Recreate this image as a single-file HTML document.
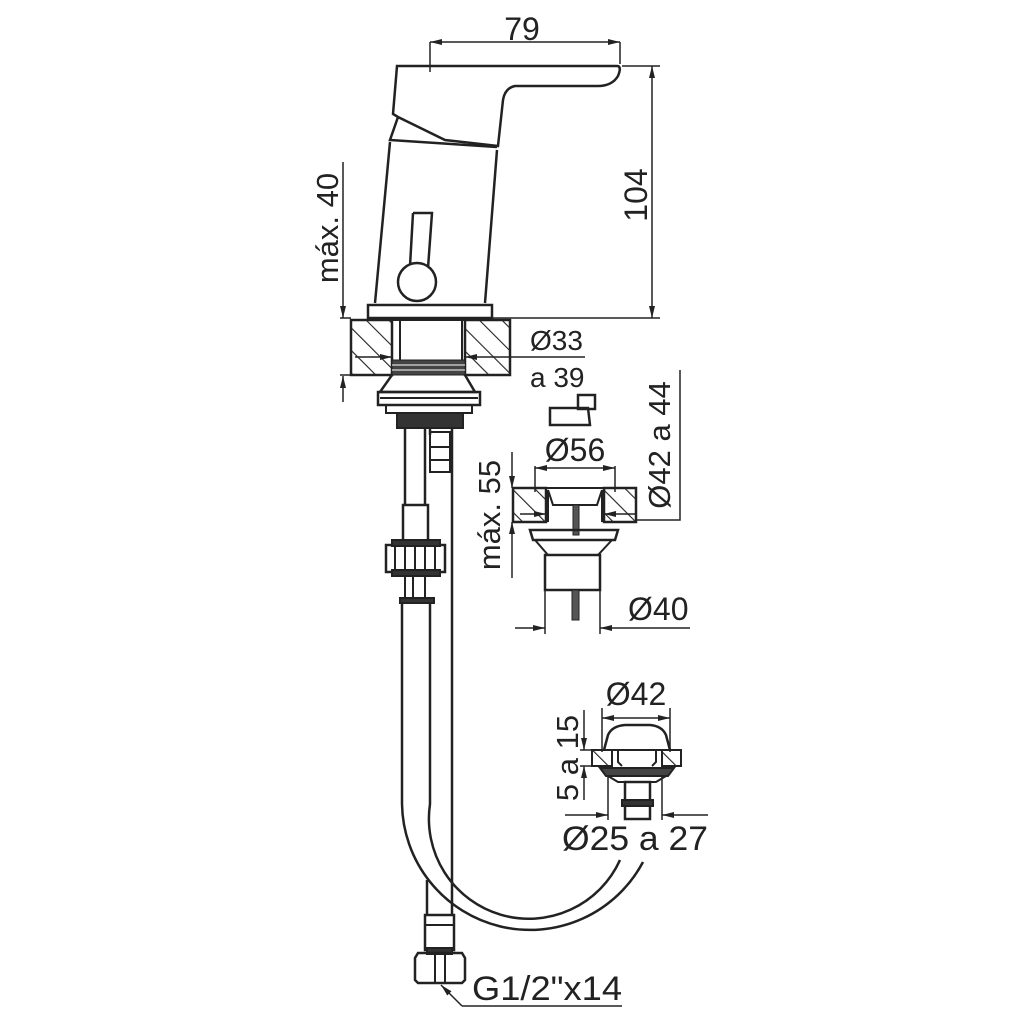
<!DOCTYPE html>
<html><head><meta charset="utf-8"><style>html,body{margin:0;padding:0;background:#fff}svg{display:block}</style></head>
<body>
<svg width="1024" height="1024" viewBox="0 0 1024 1024" xmlns="http://www.w3.org/2000/svg" font-family="Liberation Sans, sans-serif" fill="none" stroke="#222" stroke-width="2">
<defs>
<pattern id="h" width="16" height="16" patternUnits="userSpaceOnUse" patternTransform="rotate(-45)">
<line x1="0" y1="0" x2="0" y2="16" stroke="#222" stroke-width="2.2"/>
</pattern>
<marker id="a" viewBox="0 0 12 10" refX="12" refY="5" markerWidth="12" markerHeight="10" orient="auto-start-reverse" markerUnits="userSpaceOnUse"><path d="M0,2 L12,5 L0,8 Z" fill="#222" stroke="none"/></marker>
</defs>

<!-- faucet handle -->
<path d="M397,66 L617,66 Q622,66 618,76 Q612,86 598,86 L515,86 Q505,88 503,100 L498,146 L445,140 L398,117 L393,114 Z" stroke-width="2.5"/>
<path d="M398,117 L390,140 L497,147" stroke-width="2.5"/>
<path d="M390,142 L375,303 M497,150 L485,303" stroke-width="2.5"/>
<rect x="368" y="305" width="124" height="13" stroke-width="2.5"/>
<path d="M413,213 L432,213 L428,268 M410,266 L413,213" stroke-width="2.5"/>
<circle cx="417" cy="282" r="19" fill="#fff" stroke-width="2.5"/>

<!-- countertop section -->
<rect x="351" y="320" width="41" height="55" fill="url(#h)" stroke-width="2.5"/>
<rect x="465" y="320" width="45" height="55" fill="url(#h)" stroke-width="2.5"/>
<line x1="400" y1="320" x2="400" y2="375"/><line x1="462" y1="320" x2="462" y2="375"/>
<line x1="392" y1="320" x2="465" y2="320"/>
<rect x="392" y="360" width="73" height="15" fill="#444" stroke-width="1"/>
<line x1="392" y1="365" x2="465" y2="365" stroke="#fff" stroke-width="1"/>
<line x1="392" y1="370" x2="465" y2="370" stroke="#fff" stroke-width="1"/>
<path d="M392,375 L380,392 L475,392 L465,375" stroke-width="2.5"/>
<rect x="378" y="392" width="102" height="13" stroke-width="2.5"/>
<line x1="380" y1="398" x2="478" y2="398"/>
<rect x="386" y="405" width="86" height="8" stroke-width="2"/>
<rect x="397" y="413" width="66" height="15" fill="#333" stroke-width="2"/>
<path d="M405,428 L405,505 M425,428 L425,505" stroke-width="2.5"/>
<rect x="403" y="505" width="25" height="40" stroke-width="2.5"/>
<rect x="386" y="545" width="59" height="27" fill="#fff" stroke-width="2.5"/>
<path d="M395,545 L395,572 M405,545 L405,572 M415,545 L415,572 M425,545 L425,572 M435,545 L435,572" stroke-width="2"/>
<rect x="392" y="540" width="48" height="6" fill="#333"/>
<rect x="392" y="570" width="48" height="6" fill="#333"/>
<path d="M405,576 L405,600 M413,576 L413,600 M425,576 L425,600" stroke-width="2"/>
<rect x="400" y="598" width="34" height="5" fill="#333"/>
<path d="M430,428 L430,435 M452,428 L452,893" stroke-width="2.5"/>
<rect x="430" y="432" width="20" height="40" stroke-width="2"/>
<path d="M430,447 L450,447 M430,460 L450,460" stroke-width="2"/>
<path d="M402,603 L402,804 A128,128 0 0 0 643,862" stroke-width="2.5"/>
<path d="M430,603 L430,804 A100,100 0 0 0 620,860" stroke-width="2.5"/>
<path d="M427,880 L427,915 M452,893 L452,915" stroke-width="2.5"/>
<rect x="425" y="915" width="29" height="35" stroke-width="2.5"/>
<line x1="425" y1="925" x2="454" y2="925"/>
<rect x="427" y="948" width="25" height="6" fill="#333"/>
<path d="M418,953 L462,953 L465,958 L465,980 L462,983 L418,983 L415,980 L415,958 Z" stroke-width="2.5"/>
<path d="M435,953 L435,983 M445,953 L445,983" stroke-width="2"/>

<!-- dim 79 -->
<line x1="430" y1="42" x2="430" y2="72" stroke-width="1.5"/>
<line x1="620" y1="42" x2="620" y2="64" stroke-width="1.5"/>
<line x1="430" y1="42" x2="620" y2="42" stroke-width="1.5" marker-start="url(#a)" marker-end="url(#a)"/>
<text x="522" y="40" font-size="32" text-anchor="middle" fill="#222" stroke="none">79</text>
<line x1="622" y1="66" x2="660" y2="66" stroke-width="1.5"/>
<line x1="492" y1="318" x2="660" y2="318" stroke-width="1.5"/>
<line x1="652" y1="66" x2="652" y2="318" stroke-width="1.5" marker-start="url(#a)" marker-end="url(#a)"/>
<text transform="translate(647,195) rotate(-90)" font-size="32" text-anchor="middle" fill="#222" stroke="none">104</text>
<line x1="343" y1="162" x2="343" y2="318" stroke-width="1.5" marker-end="url(#a)"/>
<line x1="340" y1="375" x2="351" y2="375" stroke-width="1.5"/>
<line x1="340" y1="318" x2="351" y2="318" stroke-width="1.5"/>
<line x1="343" y1="402" x2="343" y2="376" stroke-width="1.5" marker-end="url(#a)"/>
<text transform="translate(338,228) rotate(-90)" font-size="31" text-anchor="middle" fill="#222" stroke="none">máx. 40</text>
<line x1="355" y1="357" x2="392" y2="357" stroke-width="1.5" marker-end="url(#a)"/>
<line x1="585" y1="357" x2="465" y2="357" stroke-width="1.5" marker-end="url(#a)"/>
<text x="530" y="350" font-size="28" fill="#222" stroke="none">Ø33</text>
<text x="530" y="387" font-size="28" fill="#222" stroke="none">a 39</text>

<path d="M550,408 L588,408 L590,425 L550,425 Z" stroke-width="2.5"/>
<rect x="578" y="395" width="17" height="14" stroke-width="2.5"/>
<path d="M636,520 L680,520 L680,370" stroke-width="1.5"/>
<text transform="translate(670,445) rotate(-90)" font-size="31" text-anchor="middle" fill="#222" stroke="none">Ø42 a 44</text>
<line x1="535" y1="466" x2="535" y2="492" stroke-width="1.5"/>
<line x1="615" y1="466" x2="615" y2="492" stroke-width="1.5"/>
<line x1="535" y1="468" x2="615" y2="468" stroke-width="1.5" marker-start="url(#a)" marker-end="url(#a)"/>
<text x="575" y="461" font-size="32" text-anchor="middle" fill="#222" stroke="none">Ø56</text>
<rect x="513" y="488" width="33" height="34" fill="url(#h)" stroke-width="2.5"/>
<rect x="604" y="488" width="32" height="34" fill="url(#h)" stroke-width="2.5"/>
<line x1="546" y1="488" x2="604" y2="488" stroke-width="2"/>
<path d="M548,490 L553,505 L597,505 L602,490" stroke-width="2"/>
<path d="M548,490 L548,522 M602,490 L602,522" stroke-width="2"/>
<rect x="573" y="505" width="6" height="30" fill="#555" stroke-width="1"/>
<path d="M530,530 L618,530 L615,540 L533,540 Z" stroke-width="2.5"/>
<path d="M535,540 L548,555 L598,555 L612,540" stroke-width="2"/>
<rect x="545" y="555" width="55" height="35" stroke-width="2.5"/>
<rect x="572" y="590" width="7" height="30" fill="#555" stroke-width="1"/>
<line x1="512" y1="452" x2="512" y2="488" stroke-width="1.5" marker-end="url(#a)"/>
<line x1="512" y1="578" x2="512" y2="522" stroke-width="1.5" marker-end="url(#a)"/>
<text transform="translate(500,515) rotate(-90)" font-size="31" text-anchor="middle" fill="#222" stroke="none">máx. 55</text>
<line x1="520" y1="514" x2="546" y2="514" stroke-width="1.5" marker-end="url(#a)"/>
<line x1="636" y1="514" x2="604" y2="514" stroke-width="1.5" marker-end="url(#a)"/>
<line x1="545" y1="590" x2="545" y2="634" stroke-width="1.5"/>
<line x1="600" y1="590" x2="600" y2="634" stroke-width="1.5"/>
<line x1="515" y1="628" x2="545" y2="628" stroke-width="1.5" marker-end="url(#a)"/>
<line x1="690" y1="628" x2="600" y2="628" stroke-width="1.5" marker-end="url(#a)"/>
<text x="628" y="620" font-size="32" fill="#222" stroke="none">Ø40</text>

<line x1="602" y1="708" x2="602" y2="752" stroke-width="1.5"/>
<line x1="670" y1="708" x2="670" y2="752" stroke-width="1.5"/>
<line x1="602" y1="718" x2="670" y2="718" stroke-width="1.5" marker-start="url(#a)" marker-end="url(#a)"/>
<text x="636" y="705" font-size="32" text-anchor="middle" fill="#222" stroke="none">Ø42</text>
<path d="M604,750 L608,735 Q612,726 625,725 L650,725 Q662,726 666,735 L670,750" stroke-width="2.5"/>
<rect x="592" y="750" width="20" height="16" fill="url(#h)" stroke-width="2"/>
<rect x="662" y="750" width="19" height="16" fill="url(#h)" stroke-width="2"/>
<path d="M612,750 L662,750 M618,750 L618,762 L622,766 M656,750 L656,762 L652,766" stroke-width="2"/>
<path d="M600,768 L674,768 L668,776 L606,776 Z" fill="#444" stroke-width="2"/>
<path d="M608,776 L618,782 L656,782 L666,776" stroke-width="2"/>
<rect x="625" y="782" width="25" height="37" stroke-width="2.5"/>
<rect x="622" y="800" width="31" height="6" fill="#333"/>
<line x1="584" y1="710" x2="584" y2="750" stroke-width="1.5" marker-end="url(#a)"/>
<line x1="584" y1="800" x2="584" y2="766" stroke-width="1.5" marker-end="url(#a)"/>
<line x1="580" y1="750" x2="592" y2="750" stroke-width="1.5"/>
<line x1="580" y1="766" x2="592" y2="766" stroke-width="1.5"/>
<text transform="translate(578,758) rotate(-90)" font-size="31" text-anchor="middle" fill="#222" stroke="none">5 a 15</text>
<line x1="608" y1="776" x2="608" y2="820" stroke-width="1.5"/>
<line x1="662" y1="776" x2="662" y2="820" stroke-width="1.5"/>
<line x1="565" y1="815" x2="608" y2="815" stroke-width="1.5" marker-end="url(#a)"/>
<line x1="708" y1="815" x2="662" y2="815" stroke-width="1.5" marker-end="url(#a)"/>
<text x="562" y="850" font-size="34" fill="#222" stroke="none" textLength="146" lengthAdjust="spacingAndGlyphs">Ø25 a 27</text>

<path d="M462,1006 L622,1006" stroke-width="1.5"/>
<line x1="462" y1="1006" x2="441" y2="985" stroke-width="1.5" marker-end="url(#a)"/>
<text x="472" y="1000" font-size="34" fill="#222" stroke="none" textLength="150" lengthAdjust="spacingAndGlyphs">G1/2"x14</text>
</svg>
</body></html>
